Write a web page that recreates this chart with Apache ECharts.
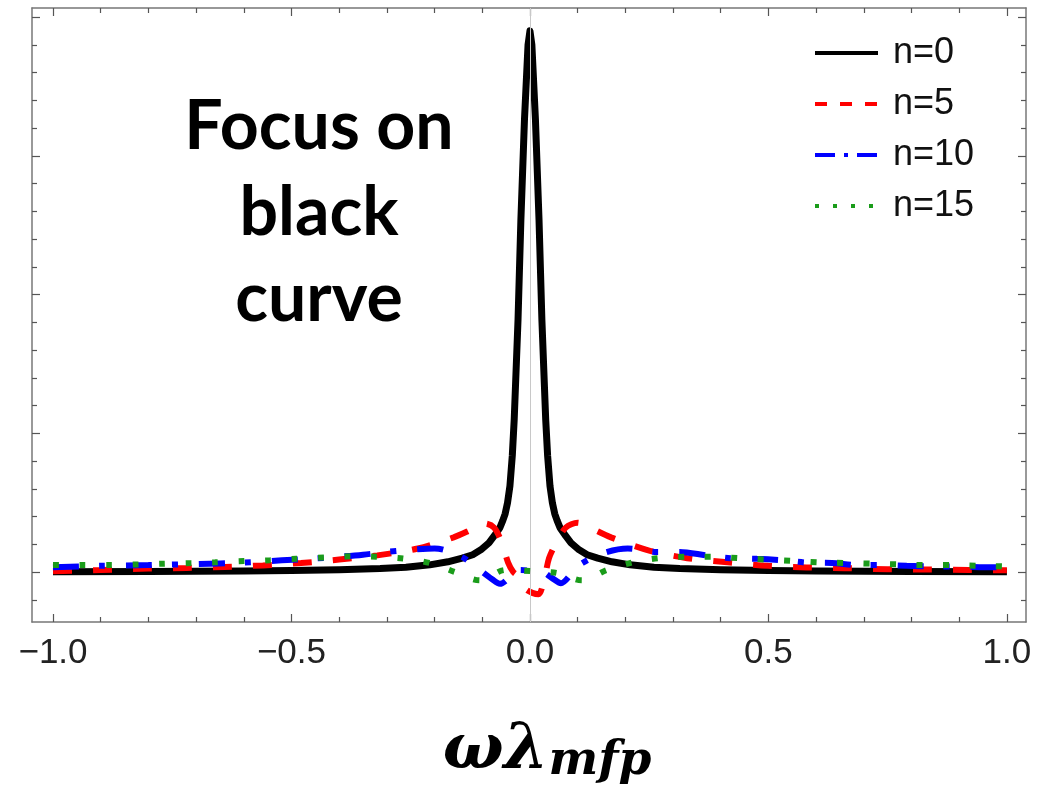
<!DOCTYPE html>
<html>
<head>
<meta charset="utf-8">
<script src="https://cdn.jsdelivr.net/npm/echarts@6/dist/echarts.min.js"></script>
<style>
    html, body { margin: 0; padding: 0; background: #fff; }
    #chart { width: 1038px; height: 794px; }
</style>
</head>
<body>
<div id="chart"></div>
<script>
// values
var names = ['n=0', 'n=5', 'n=10', 'n=15'];

var blackX = [-1.0, -0.8, -0.6, -0.5, -0.4, -0.314, -0.26, -0.21, -0.172, -0.142, -0.12, -0.103, -0.086, -0.075, -0.063, -0.057, -0.052, -0.047, -0.042, -0.037, -0.033,
    -0.025, -0.019, -0.0115, -0.004, 0,
    0.004, 0.0115, 0.019, 0.025,
    0.033, 0.037, 0.042, 0.047, 0.052, 0.057, 0.063, 0.075, 0.086, 0.103, 0.12, 0.142, 0.172, 0.21, 0.26, 0.314, 0.4, 0.5, 0.6, 0.8, 1.0];
var blackY = [0.002, 0.004, 0.008, 0.011, 0.016, 0.025, 0.035, 0.052, 0.074, 0.10, 0.125, 0.16, 0.21, 0.26, 0.32, 0.37, 0.42, 0.50, 0.62, 0.84, 1.10,
    1.82, 2.54, 3.26, 3.80, 3.90,
    3.80, 3.26, 2.54, 1.82,
    1.10, 0.84, 0.62, 0.50, 0.42, 0.37, 0.32, 0.26, 0.21, 0.16, 0.125, 0.10, 0.074, 0.052, 0.035, 0.025, 0.016, 0.011, 0.008, 0.004, 0.002];

var redX = [-1.0, -0.9, -0.8, -0.72, -0.64, -0.56, -0.48, -0.40, -0.32, -0.235, -0.16, -0.12, -0.094, -0.075, -0.06, -0.046, -0.035, -0.025, -0.01,
    0.005, 0.018, 0.03, 0.04, 0.055, 0.075, 0.1, 0.12, 0.17, 0.25, 0.33, 0.42, 0.50, 0.58, 0.66, 0.75, 0.83, 0.92, 1.0];
var redY = [0.005, 0.015, 0.025, 0.03, 0.037, 0.048, 0.065, 0.09, 0.12, 0.17, 0.25, 0.31, 0.35, 0.32, 0.22, 0.07, 0.0, -0.03, -0.12,
    -0.15, -0.16, -0.05, 0.1, 0.21, 0.32, 0.355, 0.33, 0.25, 0.155, 0.10, 0.068, 0.045, 0.033, 0.028, 0.02, 0.018, 0.015, 0.013];

var blueX = [-1.0, -0.9, -0.8, -0.7, -0.6, -0.52, -0.45, -0.40, -0.35, -0.3, -0.25, -0.2, -0.143, -0.105, -0.08, -0.063, -0.05, -0.036, -0.02,
    0.0, 0.027, 0.045, 0.065, 0.09, 0.11, 0.157, 0.205, 0.266, 0.314, 0.37, 0.42, 0.476, 0.53, 0.58, 0.633, 0.69, 0.74, 0.79, 0.85, 0.9, 0.95, 1.0];
var blueY = [0.035, 0.045, 0.05, 0.058, 0.068, 0.085, 0.098, 0.11, 0.125, 0.145, 0.16, 0.17, 0.11, 0.015, -0.05, -0.085, -0.06, 0.0, 0.015,
    0.01, 0.0, -0.04, -0.08, 0.0, 0.065, 0.14, 0.17, 0.145, 0.145, 0.12, 0.10, 0.095, 0.085, 0.068, 0.065, 0.05, 0.05, 0.045, 0.04, 0.04, 0.035, 0.033];

var greenX = [-1.0, -0.94, -0.88, -0.82, -0.77, -0.71, -0.66, -0.60, -0.545, -0.49, -0.43, -0.375, -0.32, -0.266, -0.21, -0.157, -0.105, -0.052,
    0.004, 0.057, 0.109, 0.161, 0.216, 0.27, 0.33, 0.384, 0.44, 0.497, 0.55, 0.608, 0.665, 0.72, 0.775, 0.83, 0.887, 0.943, 1.0];
var greenY = [0.05, 0.05, 0.05, 0.055, 0.06, 0.065, 0.07, 0.08, 0.085, 0.095, 0.105, 0.113, 0.11, 0.097, 0.065, 0.0, -0.06, 0.015,
    0.007, -0.007, -0.06, 0.015, 0.07, 0.10, 0.11, 0.11, 0.10, 0.09, 0.08, 0.07, 0.065, 0.06, 0.055, 0.05, 0.05, 0.045, 0.04];

// frame ticks
var xMajor = [-1, -0.5, 0, 0.5, 1];
var xMinor = [-0.9, -0.8, -0.7, -0.6, -0.4, -0.3, -0.2, -0.1, 0.1, 0.2, 0.3, 0.4, 0.6, 0.7, 0.8, 0.9];
var yMajor = [0, 1, 2, 3, 4];
var yMinor = [-0.2, 0.2, 0.4, 0.6, 0.8, 1.2, 1.4, 1.6, 1.8, 2.2, 2.4, 2.6, 2.8, 3.2, 3.4, 3.6, 3.8];

var xMin = -1.044, xMax = 1.04;
var yMin = -0.36, yMax = 4.065;

function pairs(xs, ys) {
    var out = [];
    for (var i = 0; i < xs.length; i++) {
        out.push([xs[i], ys[i]]);
    }
    return out;
}

function xAxisOf(pos, ticks, len, withLine, withLabel) {
    return {
        type: 'value', position: pos, min: xMin, max: xMax,
        axisLine: { show: withLine, onZero: false, lineStyle: { color: '#777', width: 1.5 } },
        axisTick: { show: true, inside: true, length: len, customValues: ticks, lineStyle: { color: '#555', width: 1.2 } },
        axisLabel: withLabel ? {
            show: true, customValues: ticks, margin: 14,
            fontFamily: 'Liberation Sans', fontSize: 35, color: '#222',
            formatter: function (v) { return (v < 0 ? '\u2212' : '') + Math.abs(v).toFixed(1); }
        } : { show: false },
        splitLine: { show: false }
    };
}

function yAxisOf(pos, ticks, len, withLine) {
    return {
        type: 'value', position: pos, min: yMin, max: yMax,
        axisLine: { show: withLine, onZero: false, lineStyle: { color: '#777', width: 1.5 } },
        axisTick: { show: true, inside: true, length: len, customValues: ticks, lineStyle: { color: '#555', width: 1.2 } },
        axisLabel: { show: false },
        splitLine: { show: false }
    };
}

var xBottom = xAxisOf('bottom', xMajor, 8, true, true);
xBottom.name = '{w|\u03c9\u03bb}{s|mfp}';
xBottom.nameLocation = 'middle';
xBottom.nameGap = 94;
xBottom.nameTextStyle = {
    rich: {
        w: { fontFamily: 'DejaVu Serif', fontStyle: 'italic', fontWeight: 'bold', fontSize: 64, lineHeight: 70, color: '#000', verticalAlign: 'middle', padding: [0, 0, 0, 36] },
        s: { fontFamily: 'DejaVu Serif', fontStyle: 'italic', fontWeight: 'bold', fontSize: 47, lineHeight: 46, color: '#000', verticalAlign: 'middle', padding: [22, 0, 0, 0] }
    }
};

var myChart = echarts.init(document.getElementById('chart'));
var option = {
    animation: false,
    backgroundColor: '#fff',
    grid: { left: 32, right: 12, top: 8, bottom: 172 },
    legend: {
        orient: 'vertical',
        left: 808,
        top: 23,
        itemWidth: 63,
        itemHeight: 14,
        itemGap: 1,
        itemStyle: { opacity: 0 },
        textStyle: { fontFamily: 'Liberation Sans', fontSize: 36, lineHeight: 32, color: '#111', padding: [0, 0, 18, 10] },
        data: [
            { name: names[0], lineStyle: { width: 4, type: 'solid' } },
            { name: names[1], lineStyle: { width: 4, type: [12, 13] } },
            { name: names[2], lineStyle: { width: 4, type: [20, 9, 4, 9] } },
            { name: names[3], lineStyle: { width: 4, type: [4, 14] } }
        ]
    },
    xAxis: [
        xBottom,
        xAxisOf('bottom', xMinor, 5, false, false),
        xAxisOf('top', xMajor, 8, true, false),
        xAxisOf('top', xMinor, 5, false, false)
    ],
    yAxis: [
        yAxisOf('left', yMajor, 8, true),
        yAxisOf('left', yMinor, 5, false),
        yAxisOf('right', yMajor, 8, true),
        yAxisOf('right', yMinor, 5, false)
    ],
    graphic: [{
        type: 'text',
        x: 319,
        y: 84,
        style: {
            text: 'Focus on\nblack\ncurve',
            font: 'bold 68px Lato',
            fill: '#000',
            align: 'center',
            lineHeight: 86
        }
    }],
    series: [
        {
            // light axis through x=0
            type: 'line', name: 'axis0', data: [], z: 1, silent: true,
            markLine: {
                silent: true, symbol: ['none', 'none'], label: { show: false },
                lineStyle: { color: '#c8c8c8', width: 1, type: 'solid' },
                data: [{ xAxis: 0 }]
            }
        },
        {
            name: names[0], type: 'line', data: pairs(blackX, blackY), symbol: 'none',
            color: '#000', lineStyle: { color: '#000', width: 7, join: 'round' }, z: 3
        },
        {
            name: names[1], type: 'line', data: pairs(redX, redY), symbol: 'none', smooth: 0.3,
            color: '#ff0000', lineStyle: { color: '#ff0000', width: 6, type: [19, 21] }, z: 4
        },
        {
            name: names[2], type: 'line', data: pairs(blueX, blueY), symbol: 'none', smooth: 0.3,
            color: '#0000ff', lineStyle: { color: '#0000ff', width: 6, type: [26, 20, 6, 21] }, z: 5
        },
        {
            name: names[3], type: 'line', data: pairs(greenX, greenY), symbol: 'none', smooth: 0.3,
            color: '#1a9c1a', lineStyle: { color: '#1a9c1a', width: 6, type: [6, 20.5] }, z: 6
        }
    ]
};
myChart.setOption(option, true);
</script>
</body>
</html>
